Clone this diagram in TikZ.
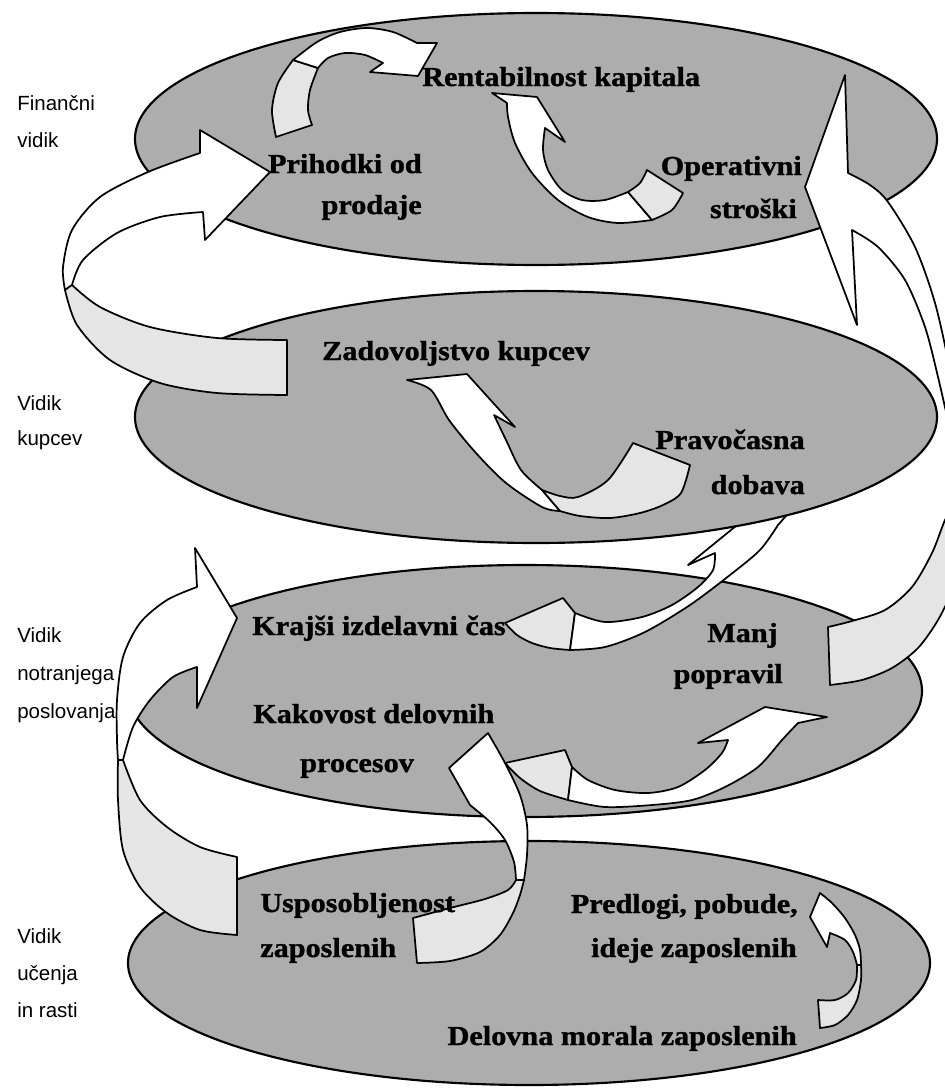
\documentclass[tikz,border=0pt]{standalone}
\usepackage{fontspec}
\setmainfont{Liberation Serif}
\newfontfamily\goalfont{Liberation Serif}[FakeStretch=1.1, FakeBold=1.2]
\newfontfamily\sidefont{Liberation Sans}
\tikzset{
  layer/.style={draw=black, line width=1.6pt, fill=black!32},
  front/.style={draw=black, line width=1.3pt, fill=white, line join=round},
  back/.style={draw=black, line width=1.3pt, fill=black!10, line join=round},
  goal/.style={font=\goalfont\bfseries\fontsize{20.6}{24}\selectfont, inner sep=0pt},
  side/.style={font=\sidefont\fontsize{15.4}{18}\selectfont, inner sep=0pt, anchor=base west}
}
\begin{document}
\begin{tikzpicture}[x=0.75pt, y=-0.75pt]
\useasboundingbox (0,0) rectangle (945,1088);
\clip (0,0) rectangle (945,1088);
% lower two layers
\draw[layer] (529,963) ellipse [x radius=401, y radius=122];
\draw[layer] (525,691) ellipse [x radius=397, y radius=126];
% usposobljenost -> krajsi cas
\draw[front] plot[smooth] coordinates {(123,760) (133,727) (150,700) (173,677) (197,667)}
  -- (197,708) -- (237,618) -- (195,548)
  -- plot[smooth] coordinates {(197,587) (167,600) (140,623) (123,657) (117,700) (117,740) (118,760)} -- cycle;
\draw[back] plot[smooth] coordinates {(123,760) (140,800) (167,827) (200,847) (237,857)}
  -- (237,935) -- plot[smooth] coordinates {(237,935) (200,930) (167,913) (140,887) (123,850) (118,800) (118,760)} -- cycle;
% usposobljenost -> kakovost
\draw[front] (488,733) -- (449,768) -- (470,805)
  -- plot[smooth] coordinates {(470,805) (490,822) (505,840) (514,862) (516,880)}
  -- plot[smooth] coordinates {(524,880) (527,855) (527,825) (520,795) (505,763) (488,733)} -- cycle;
\draw[back] plot[smooth] coordinates {(516,880) (508,890) (485,899) (450,908) (413,918)}
  -- (417,963) -- plot[smooth] coordinates {(417,963) (450,961) (480,952) (500,935) (513,913) (520,895) (524,880)} -- cycle;
% kakovost -> manj popravil
\draw[back] (505,763) -- (565,750) -- (572,767) -- (568,800)
  -- plot[smooth] coordinates {(568,800) (540,791) (520,778) (505,763)} -- cycle;
\draw[front] plot[smooth] coordinates {(572,767) (588,780) (615,790) (648,793) (678,787) (705,770) (722,753) (728,740)}
  -- (698,743) -- (765,707) -- (827,717)
  -- plot[smooth] coordinates {(798,723) (782,740) (758,767) (725,787) (692,800) (652,805) (605,807) (568,800)} -- cycle;
% krajsi cas -> pravocasna dobava
\draw[back] (505,623) -- (563,598) -- (575,613) -- (570,650)
  -- plot[smooth] coordinates {(570,650) (550,648) (532,643) (517,635) (505,623)} -- cycle;
\draw[front] plot[smooth] coordinates {(575,613) (605,622) (642,617) (672,605) (698,587) (713,570) (715,553)}
  -- (688,565) -- (747,517) -- (772,495) -- (800,500)
  -- plot[smooth] coordinates {(778,525) (760,550) (730,575) (690,605) (645,632) (605,647) (570,650)} -- cycle;
% predlogi <- delovna morala
\draw[front] (820,893) -- (810,917) -- (827,947) -- (830,933)
  -- plot[smooth] coordinates {(830,933) (845,940) (853,952) (857,965)}
  -- plot[smooth] coordinates {(861,965) (860,950) (855,935) (845,918) (832,903) (820,893)} -- cycle;
\draw[back] plot[smooth] coordinates {(857,965) (856,980) (848,993) (835,1000) (818,1000)}
  -- (820,1028) -- plot[smooth] coordinates {(820,1028) (835,1025) (848,1015) (857,1000) (861,980) (861,965)} -- cycle;
% upper two layers
\draw[layer] (536,417) ellipse [x radius=401, y radius=126];
\draw[layer] (536,139) ellipse [x radius=401, y radius=126];
% pravocasna -> zadovoljstvo
\draw[front] plot[smooth] coordinates {(560,511) (542,507) (506,483) (476,453) (449,420) (431,390) (407,380)}
  -- (467,374) -- (515,427)
  -- plot[smooth] coordinates {(494,415) (506,440) (521,470) (542,490)} -- cycle;
\draw[back] plot[smooth] coordinates {(542,490) (560,496) (578,497) (608,480) (633,443)}
  -- (690,465) -- plot[smooth] coordinates {(690,465) (681,493) (663,505) (640,513) (610,518) (580,516) (560,511)} -- cycle;
% prihodki -> rentabilnost
\draw[back] plot[smooth] coordinates {(276,137) (272,110) (278,83) (293,60)}
  -- plot[smooth] coordinates {(318,68) (310,90) (308,110) (312,125)} -- cycle;
\draw[front] plot[smooth] coordinates {(293,60) (317,42) (340,32) (367,28) (393,32) (417,43)}
  -- (437,43) -- (418,76) -- (370,72)
  -- plot[smooth] coordinates {(383,63) (365,55) (345,53) (328,58) (318,68)} -- cycle;
% operativni -> rentabilnost
\draw[front] plot[smooth] coordinates {(652,220) (618,223) (588,217) (558,200) (532,173) (515,143) (508,117) (507,103)}
  -- (492,93) -- (537,97) -- (565,142)
  -- plot[smooth] coordinates {(545,128) (543,150) (548,170) (562,190) (582,200) (605,200) (628,192)} -- cycle;
\draw[back] plot[smooth] coordinates {(628,192) (640,183) (647,170)}
  -- (683,193) -- plot[smooth] coordinates {(683,193) (672,210) (652,220)} -- cycle;
% zadovoljstvo -> prihodki
\draw[front] plot[smooth] coordinates {(72,285) (83,260) (117,233) (160,217) (203,212)}
  -- (205,240) -- (270,172) -- (200,130)
  -- plot[smooth] coordinates {(200,153) (148,172) (100,197) (72,230) (63,267) (65,290)} -- cycle;
\draw[back] plot[smooth] coordinates {(72,285) (100,307) (150,327) (217,338) (287,340)}
  -- (287,395) -- plot[smooth] coordinates {(287,395) (217,393) (160,383) (110,360) (77,325) (65,290)} -- cycle;
% manj popravil -> operativni
\draw[front] (845,75) -- (848,173)
  -- plot[smooth] coordinates {(848,173) (870,185) (888,202) (915,247) (935,303) (950,370) (962,440) (966,475)}
  -- plot[smooth] coordinates {(958,470) (950,430) (938,377) (925,327) (905,280) (878,247) (852,230)}
  -- (857,325) -- (805,187) -- cycle;
\draw[back] plot[smooth] coordinates {(966,480) (958,495) (945,520) (932,553) (912,587) (885,610) (852,621) (828,627)}
  -- (830,685) -- plot[smooth] coordinates {(830,685) (862,680) (892,668) (918,648) (938,620) (952,590) (962,550) (968,500)} -- cycle;
% labels
\node[goal, anchor=base west] (rent) at (422,86) {Rentabilnost kapitala};
\node[goal, anchor=base east] (prih) at (422,173) {Prihodki od};
\node[goal, anchor=base east] (prod) at (422,214) {prodaje};
\node[goal, anchor=base east] (oper) at (802,175) {Operativni};
\node[goal, anchor=base east] (stro) at (797,218) {stroški};
\node[goal, anchor=base west] (zado) at (322,360) {Zadovoljstvo kupcev};
\node[goal, anchor=base east] (prav) at (805,449) {Pravočasna};
\node[goal, anchor=base east] (doba) at (805,494) {dobava};
\node[goal, anchor=base west] (kraj) at (252,635) {Krajši izdelavni čas};
\node[goal, anchor=base east] (manj) at (778,642) {Manj};
\node[goal, anchor=base east] (popr) at (783,683) {popravil};
\node[goal, anchor=base west] (kako) at (253,723) {Kakovost delovnih};
\node[goal, anchor=base west] (proc) at (300,772) {procesov};
\node[goal, anchor=base west] (uspo) at (260,912) {Usposobljenost};
\node[goal, anchor=base west] (zapo) at (260,957) {zaposlenih};
\node[goal, anchor=base east] (pred) at (798,913) {Predlogi, pobude,};
\node[goal, anchor=base east] (idej) at (797,957) {ideje zaposlenih};
\node[goal, anchor=base east] (delo) at (797,1045) {Delovna morala zaposlenih};
\foreach \txt/\y [count=\i] in {Finančni/110, vidik/147, Vidik/410, kupcev/445,
    Vidik/642, notranjega/680, poslovanja/718, Vidik/943, učenja/980, in rasti/1017}
  \node[side] (side\i) at (17,\y) {\txt};
\end{tikzpicture}
\end{document}
